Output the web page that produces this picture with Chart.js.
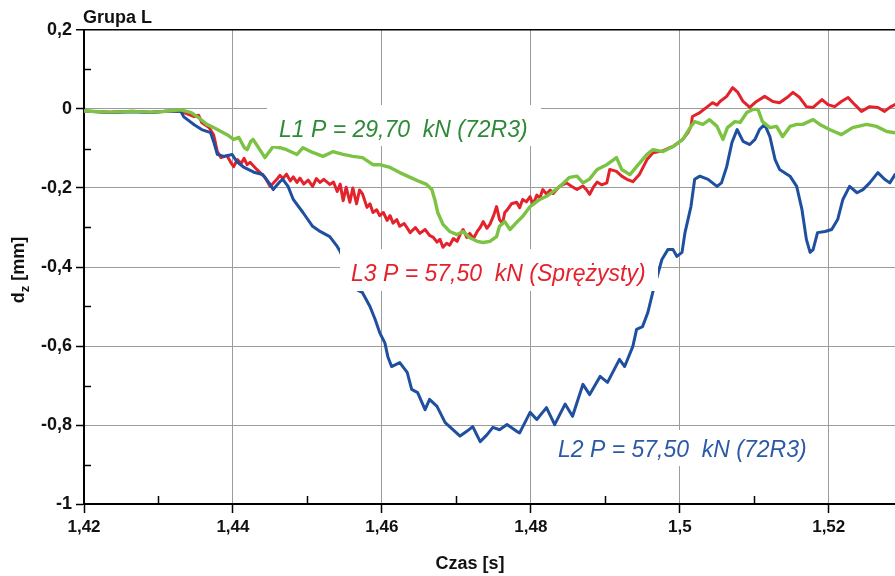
<!DOCTYPE html>
<html>
<head>
<meta charset="utf-8">
<script src="https://cdn.jsdelivr.net/npm/chart.js@4/dist/chart.umd.min.js"></script>
<style>
html, body { margin: 0; padding: 0; background: #fff; }
</style>
</head>
<body>
<canvas id="chart" width="895" height="576"></canvas>
<script>
// Axis ticks (time in s, displacement in mm)
const xTickValues = [1.42, 1.44, 1.46, 1.48, 1.50, 1.52];
const xMinorValues = [1.43, 1.45, 1.47, 1.49, 1.51];
const yTickValues = [-1, -0.8, -0.6, -0.4, -0.2, 0, 0.2];
const yMinorValues = [-0.9, -0.7, -0.5, -0.3, -0.1, 0.1];

// L1 P = 29,70 kN (72R3) - green
const l1Time = [1.4200, 1.4235, 1.4265, 1.4290, 1.4310, 1.4330, 1.4344, 1.4354, 1.4365, 1.4374,
  1.4384, 1.4392, 1.4401, 1.4408, 1.4415, 1.4419, 1.4424, 1.4427, 1.4436, 1.4443,
  1.4454, 1.4463, 1.4472, 1.4486, 1.4494, 1.4507, 1.4521, 1.4534, 1.4548, 1.4561,
  1.4574, 1.4588, 1.4597, 1.4611, 1.4624, 1.4638, 1.4651, 1.4660, 1.4667, 1.4671,
  1.4675, 1.4682, 1.4691, 1.4701, 1.4709, 1.4718, 1.4728, 1.4736, 1.4745, 1.4754,
  1.4758, 1.4765, 1.4772, 1.4781, 1.4789, 1.4799, 1.4812, 1.4821, 1.4830, 1.4839,
  1.4852, 1.4862, 1.4870, 1.4879, 1.4889, 1.4902, 1.4915, 1.4922, 1.4933, 1.4942,
  1.4950, 1.4956, 1.4964, 1.4977, 1.4991, 1.5004, 1.5015, 1.5020, 1.5031, 1.5040,
  1.5050, 1.5058, 1.5064, 1.5074, 1.5081, 1.5090, 1.5098, 1.5105, 1.5111, 1.5121,
  1.5130, 1.5138, 1.5148, 1.5157, 1.5165, 1.5179, 1.5188, 1.5201, 1.5217, 1.5232,
  1.5251, 1.5264, 1.5278, 1.5289];
const l1Disp = [-0.005, -0.008, -0.006, -0.008, -0.006, -0.002, -0.009, -0.022, -0.039, -0.047,
  -0.057, -0.065, -0.077, -0.072, -0.097, -0.103, -0.082, -0.077, -0.103, -0.123,
  -0.095, -0.098, -0.103, -0.115, -0.098, -0.110, -0.120, -0.108, -0.115, -0.120,
  -0.123, -0.141, -0.141, -0.148, -0.161, -0.173, -0.184, -0.191, -0.204, -0.229,
  -0.262, -0.292, -0.310, -0.318, -0.310, -0.326, -0.335, -0.338, -0.335, -0.323,
  -0.297, -0.285, -0.305, -0.287, -0.272, -0.247, -0.229, -0.221, -0.209, -0.196,
  -0.173, -0.170, -0.187, -0.177, -0.153, -0.141, -0.123, -0.153, -0.166, -0.146,
  -0.128, -0.115, -0.103, -0.108, -0.095, -0.077, -0.044, -0.032, -0.039, -0.027,
  -0.044, -0.077, -0.047, -0.032, -0.034, -0.009, -0.001, -0.001, -0.032, -0.047,
  -0.044, -0.070, -0.044, -0.039, -0.039, -0.027, -0.039, -0.052, -0.065, -0.047,
  -0.039, -0.044, -0.057, -0.060];

// L2 P = 57,50 kN (72R3) - blue
const l2Time = [1.4200, 1.4235, 1.4265, 1.4290, 1.4310, 1.4330, 1.4334, 1.4348, 1.4358, 1.4370,
  1.4374, 1.4379, 1.4388, 1.4399, 1.4405, 1.4415, 1.4428, 1.4440, 1.4450, 1.4454,
  1.4463, 1.4467, 1.4474, 1.4481, 1.4494, 1.4507, 1.4517, 1.4530, 1.4540, 1.4544,
  1.4566, 1.4574, 1.4584, 1.4591, 1.4597, 1.4604, 1.4608, 1.4613, 1.4624, 1.4634,
  1.4640, 1.4648, 1.4658, 1.4664, 1.4674, 1.4685, 1.4695, 1.4705, 1.4714, 1.4722,
  1.4732, 1.4741, 1.4749, 1.4758, 1.4768, 1.4781, 1.4785, 1.4799, 1.4808, 1.4821,
  1.4832, 1.4846, 1.4856, 1.4870, 1.4879, 1.4893, 1.4903, 1.4919, 1.4926, 1.4937,
  1.4942, 1.4950, 1.4957, 1.4964, 1.4976, 1.4984, 1.4991, 1.4996, 1.5003, 1.5007,
  1.5015, 1.5020, 1.5027, 1.5038, 1.5050, 1.5056, 1.5063, 1.5070, 1.5077, 1.5085,
  1.5094, 1.5101, 1.5107, 1.5114, 1.5121, 1.5128, 1.5134, 1.5148, 1.5157, 1.5164,
  1.5170, 1.5175, 1.5179, 1.5185, 1.5195, 1.5204, 1.5212, 1.5219, 1.5228, 1.5238,
  1.5246, 1.5255, 1.5266, 1.5275, 1.5282, 1.5289];
const l2Disp = [-0.005, -0.009, -0.007, -0.009, -0.006, -0.006, -0.020, -0.040, -0.052, -0.060,
  -0.082, -0.115, -0.120, -0.115, -0.133, -0.148, -0.160, -0.166, -0.191, -0.204,
  -0.184, -0.178, -0.196, -0.229, -0.262, -0.297, -0.310, -0.323, -0.348, -0.361,
  -0.457, -0.465, -0.500, -0.533, -0.566, -0.592, -0.627, -0.652, -0.642, -0.667,
  -0.710, -0.718, -0.761, -0.735, -0.753, -0.794, -0.811, -0.828, -0.816, -0.804,
  -0.842, -0.825, -0.806, -0.812, -0.799, -0.816, -0.820, -0.768, -0.786, -0.756,
  -0.799, -0.747, -0.778, -0.697, -0.723, -0.677, -0.692, -0.634, -0.652, -0.601,
  -0.558, -0.551, -0.516, -0.462, -0.381, -0.356, -0.356, -0.373, -0.363, -0.313,
  -0.247, -0.178, -0.170, -0.178, -0.196, -0.187, -0.146, -0.085, -0.052, -0.082,
  -0.090, -0.077, -0.052, -0.039, -0.070, -0.128, -0.153, -0.170, -0.196, -0.254,
  -0.330, -0.363, -0.356, -0.313, -0.310, -0.305, -0.280, -0.229, -0.196, -0.212,
  -0.204, -0.187, -0.161, -0.178, -0.187, -0.166];

// L3 P = 57,50 kN (Sprężysty) - red
const l3Time = [1.4200, 1.4235, 1.4265, 1.4290, 1.4310, 1.4330, 1.4348, 1.4354, 1.4358, 1.4368,
  1.4374, 1.4379, 1.4384, 1.4392, 1.4397, 1.4401, 1.4406, 1.4411, 1.4415, 1.4419,
  1.4423, 1.4432, 1.4443, 1.4450, 1.4459, 1.4463, 1.4467, 1.4472, 1.4477, 1.4481,
  1.4486, 1.4490, 1.4495, 1.4501, 1.4507, 1.4512, 1.4517, 1.4522, 1.4530, 1.4535,
  1.4540, 1.4544, 1.4548, 1.4552, 1.4557, 1.4561, 1.4566, 1.4570, 1.4574, 1.4580,
  1.4584, 1.4588, 1.4593, 1.4597, 1.4602, 1.4607, 1.4611, 1.4615, 1.4620, 1.4624,
  1.4630, 1.4638, 1.4645, 1.4651, 1.4658, 1.4664, 1.4669, 1.4674, 1.4678, 1.4682,
  1.4687, 1.4691, 1.4696, 1.4701, 1.4705, 1.4709, 1.4714, 1.4718, 1.4723, 1.4728,
  1.4732, 1.4736, 1.4741, 1.4745, 1.4750, 1.4754, 1.4758, 1.4762, 1.4765, 1.4768,
  1.4774, 1.4781, 1.4785, 1.4789, 1.4794, 1.4799, 1.4803, 1.4808, 1.4812, 1.4816,
  1.4821, 1.4826, 1.4830, 1.4839, 1.4848, 1.4855, 1.4862, 1.4870, 1.4875, 1.4879,
  1.4884, 1.4889, 1.4895, 1.4902, 1.4906, 1.4915, 1.4922, 1.4929, 1.4937, 1.4946,
  1.4956, 1.4964, 1.4977, 1.4984, 1.4991, 1.5004, 1.5011, 1.5015, 1.5017, 1.5027,
  1.5036, 1.5044, 1.5050, 1.5054, 1.5063, 1.5071, 1.5078, 1.5085, 1.5094, 1.5103,
  1.5114, 1.5125, 1.5134, 1.5144, 1.5152, 1.5161, 1.5170, 1.5179, 1.5191, 1.5199,
  1.5208, 1.5217, 1.5226, 1.5235, 1.5244, 1.5255, 1.5266, 1.5275, 1.5282, 1.5289];
const l3Disp = [-0.005, -0.008, -0.006, -0.008, -0.006, -0.006, -0.019, -0.016, -0.034, -0.047,
  -0.065, -0.108, -0.123, -0.118, -0.135, -0.146, -0.128, -0.138, -0.125, -0.141,
  -0.135, -0.153, -0.173, -0.196, -0.178, -0.168, -0.176, -0.165, -0.182, -0.172,
  -0.186, -0.175, -0.190, -0.180, -0.196, -0.176, -0.186, -0.178, -0.191, -0.185,
  -0.209, -0.190, -0.232, -0.198, -0.236, -0.200, -0.240, -0.205, -0.215, -0.249,
  -0.240, -0.262, -0.255, -0.270, -0.262, -0.282, -0.270, -0.289, -0.280, -0.297,
  -0.290, -0.313, -0.300, -0.315, -0.305, -0.320, -0.325, -0.337, -0.330, -0.350,
  -0.340, -0.345, -0.328, -0.335, -0.318, -0.305, -0.325, -0.315, -0.328, -0.310,
  -0.300, -0.285, -0.302, -0.292, -0.270, -0.247, -0.280, -0.290, -0.262, -0.256,
  -0.240, -0.236, -0.250, -0.229, -0.235, -0.222, -0.242, -0.218, -0.226, -0.204,
  -0.215, -0.205, -0.214, -0.195, -0.187, -0.196, -0.204, -0.195, -0.205, -0.216,
  -0.198, -0.185, -0.192, -0.187, -0.153, -0.158, -0.170, -0.178, -0.184, -0.165,
  -0.128, -0.111, -0.106, -0.100, -0.095, -0.077, -0.060, -0.044, -0.019, -0.009,
  0.004, 0.016, 0.010, 0.019, 0.032, 0.054, 0.042, 0.019, 0.004, 0.019,
  0.032, 0.019, 0.016, 0.029, 0.042, 0.029, 0.006, 0.004, 0.024, 0.011,
  0.006, 0.019, 0.029, 0.011, -0.006, 0.006, 0.004, -0.006, 0.004, 0.011];

const FONT = "'Liberation Sans', Arial, sans-serif";

function toPoints(times, values) {
    return times.map((t, i) => ({ x: t, y: values[i] }));
}

function fmt(v) {
    // Polish decimal comma
    return String(Math.round(v * 100) / 100).replace('.', ',');
}

// Minor ticks, label boxes and axis titles
const decorPlugin = {
    id: 'decor',
    beforeDatasetsDraw(chart) {
        const ctx = chart.ctx;
        const xs = chart.scales.x, ys = chart.scales.y;
        ctx.save();
        ctx.strokeStyle = '#000';
        ctx.lineWidth = 1.5;
        ctx.beginPath();
        for (const v of xMinorValues) {
            const px = Math.round(xs.getPixelForValue(v)) + 0.5;
            ctx.moveTo(px, ys.bottom);
            ctx.lineTo(px, ys.bottom - 8);
        }
        for (const v of yMinorValues) {
            const py = Math.round(ys.getPixelForValue(v)) + 0.5;
            ctx.moveTo(xs.left, py);
            ctx.lineTo(xs.left + 7, py);
        }
        ctx.stroke();
        ctx.restore();
    },
    afterDatasetsDraw(chart) {
        const ctx = chart.ctx;
        const boxes = [
            { text: 'L1 P = 29,70  kN (72R3)', color: '#2e8a38', rect: [267, 105, 274, 41], tx: 279, ty: 137 },
            { text: 'L3 P = 57,50  kN (Sprężysty)', color: '#e5222c', rect: [340, 249, 318, 42], tx: 351, ty: 281 },
            { text: 'L2 P = 57,50  kN (72R3)', color: '#2c5aa6', rect: [548, 430, 280, 36], tx: 558, ty: 457 }
        ];
        ctx.save();
        ctx.font = 'italic 23px ' + FONT;
        ctx.textBaseline = 'alphabetic';
        for (const b of boxes) {
            ctx.fillStyle = '#fff';
            ctx.fillRect(b.rect[0], b.rect[1], b.rect[2], b.rect[3]);
            ctx.fillStyle = b.color;
            ctx.fillText(b.text, b.tx, b.ty);
        }
        ctx.restore();
    },
    afterDraw(chart) {
        const ctx = chart.ctx;
        ctx.save();
        ctx.fillStyle = '#111';
        ctx.textBaseline = 'alphabetic';
        ctx.font = 'bold 18px ' + FONT;
        ctx.fillText('Grupa L', 83, 23);
        ctx.textAlign = 'center';
        ctx.fillText('Czas [s]', 470, 569);
        // y title with subscript
        ctx.translate(24, 270);
        ctx.rotate(-Math.PI / 2);
        ctx.textAlign = 'left';
        const main = 'd', sub = 'z', rest = ' [mm]';
        ctx.font = 'bold 18px ' + FONT;
        const wd = ctx.measureText(main).width;
        const wr = ctx.measureText(rest).width;
        ctx.font = 'bold 13px ' + FONT;
        const ws = ctx.measureText(sub).width;
        const total = wd + ws + wr;
        let x0 = -total / 2;
        ctx.font = 'bold 18px ' + FONT;
        ctx.fillText(main, x0, 0);
        ctx.font = 'bold 13px ' + FONT;
        ctx.fillText(sub, x0 + wd, 5);
        ctx.font = 'bold 18px ' + FONT;
        ctx.fillText(rest, x0 + wd + ws, 0);
        ctx.restore();
    }
};

const config = {
    type: 'line',
    data: {
        datasets: [
            { label: 'L1', data: toPoints(l1Time, l1Disp), borderColor: '#7cc243', borderWidth: 3.4 },
            { label: 'L2', data: toPoints(l2Time, l2Disp), borderColor: '#1f4f9f', borderWidth: 3 },
            { label: 'L3', data: toPoints(l3Time, l3Disp), borderColor: '#e3222b', borderWidth: 3 }
        ]
    },
    options: {
        responsive: false,
        animation: false,
        parsing: false,
        elements: {
            point: { radius: 0, hoverRadius: 0 },
            line: { tension: 0, borderJoinStyle: 'round', borderCapStyle: 'round' }
        },
        layout: { padding: { top: 30, right: 0, bottom: 0, left: 0 } },
        scales: {
            x: {
                type: 'linear',
                min: 1.42,
                max: 1.5289,
                afterFit: (s) => { s.height = 72; },
                afterBuildTicks: (s) => { s.ticks = xTickValues.map(v => ({ value: v })); },
                grid: {
                    color: (c) => (c.tick && c.tick.value <= 1.4201) ? 'rgba(0,0,0,0)' : '#9c9c9c',
                    lineWidth: 1,
                    tickColor: '#000',
                    tickLength: 9,
                    tickWidth: 1.5
                },
                border: { color: '#000', width: 2 },
                ticks: {
                    callback: (v) => fmt(v),
                    color: '#111',
                    padding: 4,
                    maxRotation: 0,
                    autoSkip: false,
                    font: { family: FONT, size: 17, weight: 'bold' }
                }
            },
            y: {
                type: 'linear',
                min: -1,
                max: 0.2,
                afterFit: (s) => { s.width = 84; },
                afterBuildTicks: (s) => { s.ticks = yTickValues.map(v => ({ value: v })); },
                grid: {
                    color: (c) => (c.tick && c.tick.value >= 0.19) ? '#000' : '#9c9c9c',
                    lineWidth: (c) => (c.tick && c.tick.value >= 0.19) ? 1.5 : 1,
                    tickColor: '#000',
                    tickLength: 8,
                    tickWidth: 1.5
                },
                border: { color: '#000', width: 2 },
                ticks: {
                    callback: (v) => fmt(v),
                    color: '#111',
                    padding: 4,
                    autoSkip: false,
                    font: { family: FONT, size: 18, weight: 'bold' }
                }
            }
        },
        plugins: {
            legend: { display: false },
            tooltip: { enabled: false },
            title: { display: false }
        }
    },
    plugins: [decorPlugin]
};

const chart = new Chart('chart', config);
</script>
</body>
</html>
